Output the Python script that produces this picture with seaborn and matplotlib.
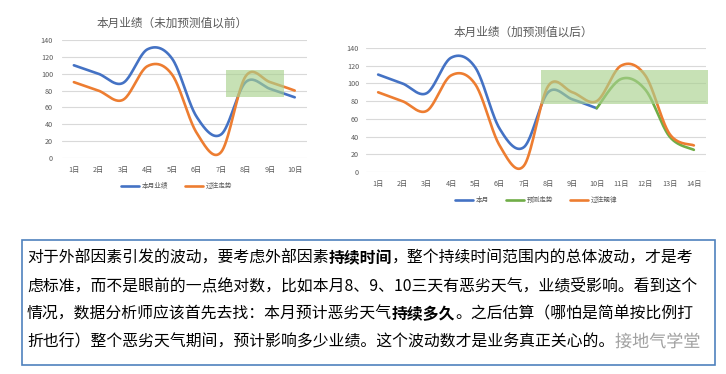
import numpy as np
import pandas as pd
import seaborn as sns
import matplotlib.pyplot as plt
from matplotlib.patches import Rectangle
import matplotlib.patheffects as pe

# values
days = ['1日', '2日', '3日', '4日', '5日', '6日', '7日',
        '8日', '9日', '10日', '11日', '12日', '13日', '14日']
this_month = [110, 100, 89, 129, 118, 49, 28, 90, 82, 72]                      # 本月 1-10日
past_trend = [90, 80, 69, 109, 99, 30, 7, 97, 90, 80, 120, 109, 43, 30]         # 过往规律 1-14日
forecast = [72, 105, 93, 40, 25]                                                # 预测走势 10-14日
forecast_days = [10, 11, 12, 13, 14]

# green highlight boxes: (x0, x1, y0, y1) in day / value units
box_left = (7.2, 9.57, 72.5, 104.5)
box_right = (7.7, 14.58, 77, 115)

BLUE = '#4472C4'
ORANGE = '#ED7D31'
GREEN = '#70AD47'
GREY = '#595959'
W, H = 726, 374
FS = 11.4  # text box font size

sns.set_theme(style='white')
plt.rcParams['font.family'] = ['Noto Sans CJK SC', 'DejaVu Sans']


def smooth(x, y, n=40):
    # excel style smoothed line: catmull-rom curve through the points
    x = np.asarray(x, float)
    y = np.asarray(y, float)
    px = np.r_[x[0], x, x[-1]]
    py = np.r_[y[0], y, y[-1]]
    t = np.linspace(0, 1, n)
    h00 = 2 * t**3 - 3 * t**2 + 1
    h10 = t**3 - 2 * t**2 + t
    h01 = -2 * t**3 + 3 * t**2
    h11 = t**3 - t**2
    xs, ys = [], []
    for i in range(1, len(x)):
        for p, out in ((px, xs), (py, ys)):
            m1 = (p[i + 1] - p[i - 1]) / 2
            m2 = (p[i + 2] - p[i]) / 2
            out.extend(h00 * p[i] + h10 * m1 + h01 * p[i + 1] + h11 * m2)
    return pd.DataFrame({'x': xs, 'y': ys})


def draw_line(ax, x, y, color, label):
    df = smooth(x, y)
    sns.lineplot(ax=ax, data=df, x='x', y='y', sort=False, estimator=None,
                 color=color, linewidth=1.9, label=label)


def style_axes(ax, n, xpad, ypad):
    ax.set_xlim(0.5, n + 0.5)
    ax.set_ylim(0, 140)
    ax.set_yticks(range(0, 141, 20))
    ax.set_xticks(range(1, n + 1))
    ax.set_xticklabels(days[:n])
    ax.grid(axis='y', color='#D9D9D9', linewidth=0.8)
    ax.grid(axis='x', visible=False)
    for s in ax.spines.values():
        s.set_visible(False)
    ax.tick_params(axis='both', length=0, labelsize=5.2, colors=GREY)
    ax.tick_params(axis='x', pad=xpad)
    ax.tick_params(axis='y', pad=ypad)
    ax.set_xlabel('')
    ax.set_ylabel('')


def add_box(ax, box):
    x0, x1, y0, y1 = box
    ax.add_patch(Rectangle((x0, y0), x1 - x0, y1 - y0, facecolor='#A9D18E',
                           alpha=0.65, edgecolor='none', zorder=5, clip_on=False))


fig = plt.figure(figsize=(W / 100, H / 100), dpi=100)

# left chart - before forecast
ax1 = fig.add_axes([61.6 / W, 1 - 158 / H, 245.4 / W, 118 / H])
draw_line(ax1, range(1, 11), this_month, BLUE, '本月业绩')
draw_line(ax1, range(1, 11), past_trend[:10], ORANGE, '过往走势')
style_axes(ax1, 10, 5.8, 6.2)
add_box(ax1, box_left)
ax1.legend(loc='center', bbox_to_anchor=(0.47, -0.237), ncol=2, frameon=False,
           fontsize=4.8, handlelength=2.7, handletextpad=0.4, columnspacing=2.5,
           labelcolor=GREY)
fig.text(172 / W, 1 - 23 / H, '本月业绩（未加预测值以前）', ha='center', va='center',
         fontsize=8.4, color=GREY)

# right chart - with forecast
ax2 = fig.add_axes([366 / W, 1 - 172 / H, 340 / W, 124 / H])
draw_line(ax2, range(1, 11), this_month, BLUE, '本月')
draw_line(ax2, forecast_days, forecast, GREEN, '预测走势')
draw_line(ax2, range(1, 15), past_trend, ORANGE, '过往规律')
style_axes(ax2, 14, 5.4, 5.0)
add_box(ax2, box_right)
ax2.legend(loc='center', bbox_to_anchor=(0.5, -0.226), ncol=3, frameon=False,
           fontsize=4.8, handlelength=2.7, handletextpad=0.4, columnspacing=2.5,
           labelcolor=GREY)
fig.text(523 / W, 1 - 32 / H, '本月业绩（加预测值以后）', ha='center', va='center',
         fontsize=8.4, color=GREY)

# text box underneath
fig.patches.append(Rectangle((22 / W, 1 - 365 / H), (715 - 22) / W, (365 - 240) / H,
                             transform=fig.transFigure, fill=False,
                             edgecolor='#4F81BD', linewidth=1.2))

lines = [
    [('对于外部因素引发的波动，要考虑外部因素', 'normal'), ('持续时间', 'bold'),
     ('，整个持续时间范围内的总体波动，才是考', 'normal')],
    [('虑标准，而不是眼前的一点绝对数，比如本月8、9、10三天有恶劣天气，业绩受影响。看到这个', 'normal')],
    [('情况，数据分析师应该首先去找：本月预计恶劣天气', 'normal'), ('持续多久', 'bold'),
     ('。之后估算（哪怕是简单按比例打', 'normal')],
    [('折也行）整个恶劣天气期间，预计影响多少业绩。这个波动数才是业务真正关心的。', 'normal')],
]
line_y = [258, 286, 314, 342]
for segs, yy in zip(lines, line_y):
    prev = None
    for txt, wt in segs:
        if prev is None:
            prev = fig.text(27 / W, 1 - yy / H, txt, ha='left', va='center',
                            fontsize=FS, color='black', fontweight=wt)
        else:
            # next piece starts where the previous one ends
            prev = ax1.annotate(txt, xy=(1, 0), xycoords=prev, ha='left',
                                va='bottom', fontsize=FS, color='black',
                                fontweight=wt, annotation_clip=False)

# watermark
fig.text(615 / W, 1 - 342 / H, '接地气学堂', ha='left', va='center', fontsize=12.3,
         color='#A0A0A0', zorder=10,
         path_effects=[pe.withStroke(linewidth=3, foreground='white')])

fig.savefig('out.png', dpi=100)
